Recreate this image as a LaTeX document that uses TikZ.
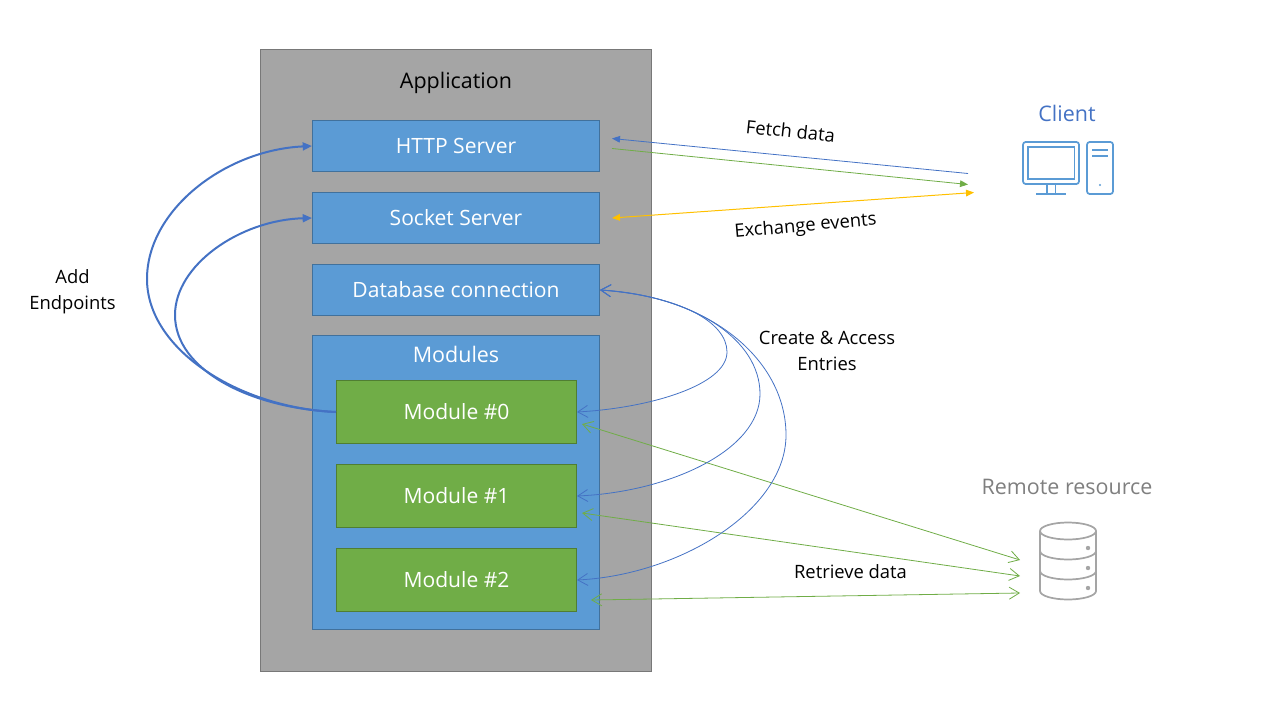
\documentclass[tikz,border=0pt]{standalone}
\usepackage{fontspec}
\setmainfont{Open Sans}
\usetikzlibrary{positioning, arrows.meta}
\definecolor{boxblue}{HTML}{5B9BD5}
\definecolor{boxedge}{HTML}{41719C}
\definecolor{modgreen}{HTML}{70AD47}
\definecolor{modedge}{HTML}{507E32}
\definecolor{appgray}{HTML}{A5A5A5}
\definecolor{appedge}{HTML}{787878}
\definecolor{linkblue}{HTML}{4472C4}
\definecolor{linkgold}{HTML}{FFC000}
\definecolor{resgray}{HTML}{7F7F7F}
\tikzset{
  appbox/.style={draw=appedge, fill=appgray, line width=0.75pt, inner sep=0, minimum width=293pt, minimum height=466.5pt},
  srvbox/.style={draw=boxedge, fill=boxblue, line width=0.75pt, inner sep=0, text=white, minimum width=215.25pt, minimum height=38.25pt, font=\fontsize{15.8}{19}\selectfont},
  modbox/.style={draw=modedge, fill=modgreen, line width=0.75pt, inner sep=0, text=white, minimum width=180pt, minimum height=47.25pt, font=\fontsize{15.8}{19}\selectfont},
  caption/.style={inner sep=0, font=\fontsize{16.1}{19}\selectfont},
  note/.style={inner sep=0, align=center, font=\fontsize{13.8}{19.5}\selectfont},
  barb/.style={{Straight Barb[length=7.5pt,width=9pt]}-{Straight Barb[length=7.5pt,width=9pt]}, line width=0.6pt},
  thick link/.style={linkblue, line width=1.5pt, -{Triangle[length=7pt,width=6pt]}},
  solid tip/.style={line width=0.6pt, -{Triangle[length=6pt,width=5pt]}},
  both tip/.style={line width=0.75pt, {Triangle[length=6pt,width=5pt]}-{Triangle[length=6pt,width=5pt]}},
}
\begin{document}
\begin{tikzpicture}[x=0.75pt, y=-0.75pt]
  \useasboundingbox (0,0) rectangle (1280,720);
  \node[appbox] (app) at (456,360.5) {};
  \node[caption, below=17.5pt of app.north] (apptitle) {Application};
  \node[srvbox] (http) at (456,146) {HTTP Server};
  \node[srvbox] (socket) at (456,218) {Socket Server};
  \node[srvbox] (dbconn) at (456,290) {Database connection};
  \node[srvbox, minimum height=220.5pt] (modules) at (456,482.5) {};
  \node[caption, text=white, below=8.5pt of modules.north] (modtitle) {Modules};
  \node[modbox] (mod0) at (456.5,412) {Module \#0};
  \node[modbox] (mod1) at (456.5,496) {Module \#1};
  \node[modbox] (mod2) at (456.5,580) {Module \#2};

  \node[caption, text=linkblue] (client) at (1067,113) {Client};
  \node[caption, text=resgray] (remote) at (1067,487) {Remote resource};
  \node[note] (addep) at (72.5,292) {Add\\Endpoints};
  \node[note] (create) at (827,350.5) {Create \& Access\\Entries};
  \node[note, rotate=-6] (fetch) at (790.5,131) {Fetch data};
  \node[note, rotate=5] (exchange) at (805.5,226.5) {Exchange events};
  \node[note] (retrieve) at (850.5,571.5) {Retrieve data};

  \coordinate (fetchtop) at (612,138.5);
  \coordinate (fetchend) at (968,173.5);
  \coordinate (sendtop) at (612,148.5);
  \coordinate (sendend) at (968,184.5);
  \coordinate (eventa) at (612,218);
  \coordinate (eventb) at (974,192.5);
  \coordinate (res0) at (1020,560);
  \coordinate (res1) at (1020,576);
  \coordinate (res2) at (1020,593);
  \coordinate (out0) at (582,424);
  \coordinate (out1) at (582,513);
  \coordinate (out2) at (591,600);

  \draw[solid tip, linkblue] (fetchend) -- (fetchtop);
  \draw[solid tip, modgreen] (sendtop) -- (sendend);
  \draw[both tip, linkgold] (eventa) -- (eventb);
  \draw[barb, modgreen] (out0) -- (res0);
  \draw[barb, modgreen] (out1) -- (res1);
  \draw[barb, modgreen] (out2) -- (res2);

  \draw[barb, linkblue] (dbconn.east) .. controls (680,296) and (727,322) .. (727,352) .. controls (727,385) and (650,408) .. (mod0.east);
  \draw[barb, linkblue] (dbconn.east) .. controls (695,296) and (760,340) .. (760,394) .. controls (760,450) and (670,492) .. (mod1.east);
  \draw[barb, linkblue] (dbconn.east) .. controls (710,296) and (786,360) .. (786,435) .. controls (786,510) and (680,575) .. (mod2.east);

  \draw[thick link] (mod0.west) .. controls (240,408) and (147,350) .. (147,279) .. controls (147,210) and (225,150) .. (http.west);
  \draw[thick link] (mod0.west) .. controls (250,408) and (175,370) .. (175,315) .. controls (175,265) and (240,220) .. (socket.west);

  % client icon
  \begin{scope}[boxblue, line width=1.3pt]
    \draw[rounded corners=2pt] (1023,142) rectangle (1079,184);
    \draw (1028,147) rectangle (1074.5,179);
    \draw (1047,184) -- (1047,194) (1055.5,184) -- (1055.5,194) (1036,194) -- (1066,194);
    \draw[rounded corners=2pt] (1087,142) rectangle (1113,194);
    \draw (1092,150) -- (1108,150) (1092,156) -- (1108,156);
    \fill (1100,185) circle (1.2);
  \end{scope}

  % remote resource icon
  \begin{scope}[appgray, line width=1.3pt]
    \draw (1068,531) ellipse (28 and 8.5);
    \draw (1040,531) -- (1040,591) arc[start angle=180, end angle=0, x radius=28, y radius=8.5] -- (1096,531);
    \draw (1040,551) arc[start angle=180, end angle=0, x radius=28, y radius=8.5];
    \draw (1040,571) arc[start angle=180, end angle=0, x radius=28, y radius=8.5];
    \foreach \doty in {548,568,588} {
      \fill (1088,\doty) circle (2.2);
    }
  \end{scope}
\end{tikzpicture}
\end{document}
